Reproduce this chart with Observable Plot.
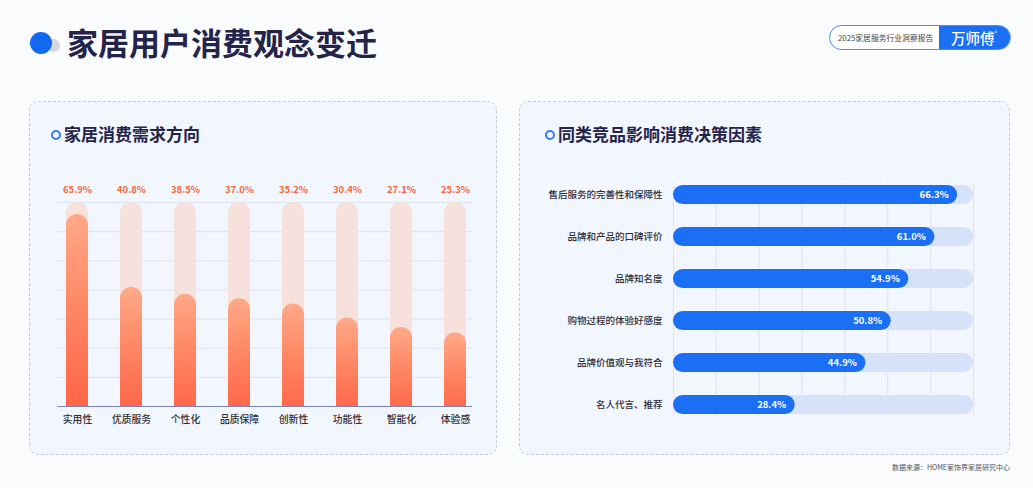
<!DOCTYPE html>
<html>
<head>
<meta charset="utf-8">
<script src="https://cdn.jsdelivr.net/npm/d3@7"></script>
<script src="https://cdn.jsdelivr.net/npm/@observablehq/plot@0.6"></script>
<style>
  html, body { margin: 0; padding: 0; background: #fafbfd; }
  body { width: 1033px; height: 488px; overflow: hidden; font-family: "Noto Sans CJK SC", "Noto Sans", sans-serif; }
  #page { position: relative; width: 1033px; height: 488px; }
  .abs { position: absolute; }
  .dot1 { left: 30px; top: 31.5px; width: 22px; height: 22px; border-radius: 50%; background: #1268f0; }
  .dot2 { left: 47px; top: 38.5px; width: 13px; height: 13px; border-radius: 50%; background: #d3d7df; }
  .title { left: 67px; top: 20px; font-size: 31px; font-weight: 700; color: #24244a; line-height: 44px; white-space: nowrap; }
  .badge { left: 829px; top: 24.5px; width: 182px; height: 25px; border-radius: 12.5px; overflow: hidden; box-sizing: border-box; border: 1px solid #4d8cf5; background: #fff; }
  .badge .l { position: absolute; left: 8px; top: 0; line-height: 23px; font-size: 7.8px; color: #454545; white-space: nowrap; }
  .badge .r { position: absolute; left: 109px; top: 0; width: 72px; height: 23px; background: #1a6ff3; color: #fff; font-size: 14.5px; line-height: 23px; font-weight: 500; padding-left: 12px; box-sizing: border-box; white-space: nowrap; }
  .badge .r sup { font-size: 5px; vertical-align: top; position: relative; top: -5px; }
  .panel { top: 100.5px; height: 354px; box-sizing: border-box; border: 1.2px dashed #c6cbda; border-radius: 9px; background: #f2f6fe; }
  .ptitle { font-size: 17px; font-weight: 700; color: #24244a; line-height: 24px; white-space: nowrap; }
  .ring { width: 6px; height: 6px; border: 2px solid #2f7cf3; border-radius: 50%; }
  .foot { right: 23px; top: 462px; font-size: 7px; color: #555; white-space: nowrap; }
</style>
</head>
<body>
<div id="page">
  <div class="abs dot2"></div>
  <div class="abs dot1"></div>
  <div class="abs title">家居用户消费观念变迁</div>
  <div class="abs badge"><span class="l">2025家居服务行业洞察报告</span><span class="r">万师傅<sup>®</sup></span></div>

  <div class="abs panel" style="left:29px;width:468px;"></div>
  <div class="abs panel" style="left:518.5px;width:491.5px;"></div>

  <div class="abs ring" style="left:51px;top:130px;"></div>
  <div class="abs ptitle" style="left:64px;top:122px;">家居消费需求方向</div>
  <div class="abs ring" style="left:545px;top:130px;"></div>
  <div class="abs ptitle" style="left:558px;top:122px;">同类竞品影响消费决策因素</div>

  <div class="abs" id="left" style="left:29px;top:175px;"></div>
  <div class="abs" id="right" style="left:519px;top:170px;"></div>

  <div class="abs foot">数据来源：HOME家饰界家居研究中心</div>
</div>
<script>
// ---- data ----
const demandCats = ["实用性", "优质服务", "个性化", "品质保障", "创新性", "功能性", "智能化", "体验感"];
const demandValues = [65.9, 40.8, 38.5, 37.0, 35.2, 30.4, 27.1, 25.3];
const factorCats = ["售后服务的完善性和保障性", "品牌和产品的口碑评价", "品牌知名度", "购物过程的体验好感度", "品牌价值观与我符合", "名人代言、推荐"];
const factorValues = [66.3, 61.0, 54.9, 50.8, 44.9, 28.4];
const axisMax = 70;
const gridTicks = [0, 10, 20, 30, 40, 50, 60, 70];

const demand = demandCats.map((c, i) => ({cat: c, value: demandValues[i]}));
const factors = factorCats.map((c, i) => ({cat: c, value: factorValues[i]}));
const font = "Noto Sans CJK SC, Noto Sans, sans-serif";

// ---- left chart: vertical bars ----
const left = Plot.plot({
  width: 468, height: 260,
  marginLeft: 28, marginRight: 25, marginTop: 27, marginBottom: 29,
  style: {fontFamily: font, background: "transparent", overflow: "visible"},
  x: {domain: demandCats, paddingInner: 0.593, paddingOuter: 0.132, align: 0.63, axis: null},
  y: {domain: [0, axisMax], axis: null},
  marks: [
    Plot.ruleY(gridTicks.filter(t => t > 0), {stroke: "#dde2ee", strokeWidth: 1}),
    Plot.barY(demand, {x: "cat", y1: -4, y2: axisMax, fill: "#f7e1dc", rx: 11, clip: true}),
    Plot.barY(demand, {x: "cat", y1: -4, y2: "value", fill: "url(#barGrad)", rx: 11, clip: true}),
    Plot.ruleY([0], {stroke: "#7a85b3", strokeWidth: 1.2}),
    Plot.text(demand, {x: "cat", y: axisMax, dy: -13, text: d => d.value.toFixed(1) + "%", fill: "#f2683f", fontSize: 9.5, fontWeight: 700}),
    Plot.text(demand, {x: "cat", y: 0, dy: 13, text: "cat", fill: "#2e2e38", fontSize: 9.8, fontWeight: 500})
  ]
});
const svgL = d3.select(left.tagName.toLowerCase() === "svg" ? left : left.querySelector("svg"));
const grad = svgL.insert("defs", ":first-child").append("linearGradient")
  .attr("id", "barGrad").attr("x1", 0).attr("y1", 0).attr("x2", 0).attr("y2", 1);
grad.append("stop").attr("offset", 0).attr("stop-color", "#ffa988");
grad.append("stop").attr("offset", 0.5).attr("stop-color", "#ff8462");
grad.append("stop").attr("offset", 1).attr("stop-color", "#ff6244");
document.getElementById("left").appendChild(left);

// ---- right chart: horizontal bars ----
const right = Plot.plot({
  width: 490, height: 260,
  marginLeft: 154, marginRight: 36, marginTop: 13, marginBottom: 13,
  style: {fontFamily: font, background: "transparent", overflow: "visible"},
  x: {domain: [0, axisMax], axis: null},
  y: {domain: factorCats, paddingInner: 0.547, paddingOuter: 0, axis: null},
  marks: [
    Plot.ruleX(gridTicks, {stroke: "#dfe3ed", strokeWidth: 1}),
    Plot.barX(factors, {y: "cat", x1: 0, x2: axisMax, fill: "#d5e2f9", rx: 9.7}),
    Plot.barX(factors, {y: "cat", x1: 0, x2: "value", fill: "#1a6ff5", rx: 9.7}),
    Plot.text(factors, {y: "cat", x: "value", dx: -9, textAnchor: "end", text: d => d.value.toFixed(1) + "%", fill: "#fff", fontSize: 9.5, fontWeight: 700}),
    Plot.text(factors, {y: "cat", x: 0, dx: -11, textAnchor: "end", text: "cat", fill: "#2e2e38", fontSize: 9.5, fontWeight: 500})
  ]
});
document.getElementById("right").appendChild(right);
</script>
</body>
</html>
